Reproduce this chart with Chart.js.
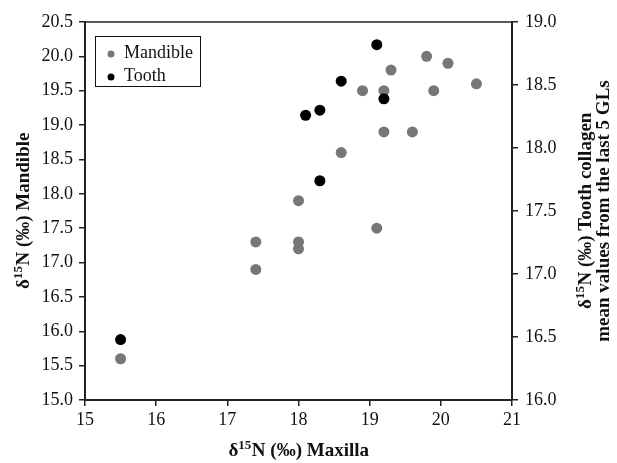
<!DOCTYPE html>
<html>
<head>
<meta charset="utf-8">
<script src="https://cdn.jsdelivr.net/npm/chart.js@4/dist/chart.umd.min.js"></script>
<style>
  body { margin: 0; background: #fff; }
  #wrap { width: 617px; height: 463px; }
</style>
</head>
<body>
<div id="wrap"><canvas id="chart" width="617" height="463"></canvas></div>
<script>
// d15N values
const mandibleX = [15.5, 17.4, 17.4, 18.0, 18.0, 18.0, 18.6, 18.9, 19.1, 19.2, 19.2, 19.3, 19.6, 19.8, 19.9, 20.1, 20.5];
const mandibleY = [15.6, 17.3, 16.9, 17.3, 17.2, 17.9, 18.6, 19.5, 17.5, 19.5, 18.9, 19.8, 18.9, 20.0, 19.5, 19.9, 19.6];
const toothX = [15.5, 18.1, 18.3, 18.3, 18.6, 19.1, 19.2];
const toothY = [16.48, 18.26, 18.30, 17.74, 18.53, 18.82, 18.39];

const xTicks = [15, 16, 17, 18, 19, 20, 21];
const leftTicks = [15.0, 15.5, 16.0, 16.5, 17.0, 17.5, 18.0, 18.5, 19.0, 19.5, 20.0, 20.5];
const rightTicks = [16.0, 16.5, 17.0, 17.5, 18.0, 18.5, 19.0];

const xTitle = ['δ', '15', 'N (‰) Maxilla'];
const leftTitle = ['δ', '15', 'N (‰) Mandible'];
const rightTitle1 = ['δ', '15', 'N (‰) Tooth collagen'];
const rightTitle2 = 'mean values from the last 5 GLs';

const serif = '"Liberation Serif", "Times New Roman", serif';
const axisCol = '#222';

const pts = function (xs, ys) {
    return xs.map((x, i) => ({x: x, y: ys[i]}));
};

// text with a superscript piece, centred on (0,0)
const drawSup = function (ctx, parts, size) {
    const big = 'bold ' + size + 'px ' + serif;
    const small = 'bold ' + Math.round(size * 0.66) + 'px ' + serif;
    ctx.font = big;
    const w0 = ctx.measureText(parts[0]).width;
    const w2 = ctx.measureText(parts[2]).width;
    ctx.font = small;
    const w1 = ctx.measureText(parts[1]).width;
    let x = -(w0 + w1 + w2) / 2;
    ctx.textBaseline = 'alphabetic';
    ctx.textAlign = 'left';
    ctx.font = big;
    ctx.fillText(parts[0], x, 0);
    x += w0;
    ctx.font = small;
    ctx.fillText(parts[1], x, -size * 0.36);
    x += w1 + 0.5;
    ctx.font = big;
    ctx.fillText(parts[2], x, 0);
};

const decorations = {
    id: 'decorations',
    afterDraw(chart) {
        const ctx = chart.ctx;
        const a = chart.chartArea;
        ctx.save();
        // top border
        ctx.strokeStyle = axisCol;
        ctx.lineWidth = 1.5;
        ctx.beginPath();
        ctx.moveTo(a.left, a.top);
        ctx.lineTo(a.right, a.top);
        ctx.stroke();

        ctx.fillStyle = '#111';
        const midY = (a.top + a.bottom) / 2;
        // x title
        ctx.save();
        ctx.translate((a.left + a.right) / 2, 456);
        drawSup(ctx, xTitle, 19);
        ctx.restore();
        // left title
        ctx.save();
        ctx.translate(29, midY);
        ctx.rotate(-Math.PI / 2);
        drawSup(ctx, leftTitle, 19);
        ctx.restore();
        // right title
        ctx.save();
        ctx.translate(591, midY);
        ctx.rotate(-Math.PI / 2);
        drawSup(ctx, rightTitle1, 19);
        ctx.font = 'bold 19px ' + serif;
        ctx.textAlign = 'center';
        ctx.fillText(rightTitle2, 0, 18);
        ctx.restore();

        // legend
        const lx = 95, ly = 36, lw = 105, lh = 50;
        ctx.fillStyle = '#fff';
        ctx.fillRect(lx, ly, lw, lh);
        ctx.strokeStyle = '#111';
        ctx.lineWidth = 1;
        ctx.strokeRect(lx + 0.5, ly + 0.5, lw, lh);
        ctx.font = '18px ' + serif;
        ctx.textAlign = 'left';
        ctx.textBaseline = 'middle';
        chart.data.datasets.forEach((ds, i) => {
            const y = ly + 17 + i * 23;
            ctx.fillStyle = ds.backgroundColor;
            ctx.beginPath();
            ctx.arc(lx + 16, y + 1, 3.5, 0, Math.PI * 2);
            ctx.fill();
            ctx.fillStyle = '#111';
            ctx.fillText(ds.label, lx + 29, y);
        });
        ctx.restore();
    }
};

new Chart(document.getElementById('chart').getContext('2d'), {
    type: 'scatter',
    data: {
        datasets: [
            {
                label: 'Mandible',
                data: pts(mandibleX, mandibleY),
                backgroundColor: '#777777',
                borderWidth: 0,
                pointRadius: 5.5,
                yAxisID: 'y',
                order: 2
            },
            {
                label: 'Tooth',
                data: pts(toothX, toothY),
                backgroundColor: '#000000',
                borderWidth: 0,
                pointRadius: 5.5,
                yAxisID: 'y2',
                order: 1
            }
        ]
    },
    options: {
        responsive: false,
        animation: false,
        layout: {padding: {top: 22, right: 0, left: 0, bottom: 0}},
        plugins: {
            legend: {display: false},
            tooltip: {enabled: false}
        },
        scales: {
            x: {
                type: 'linear',
                min: 15, max: 21,
                afterBuildTicks: (s) => { s.ticks = xTicks.map(v => ({value: v})); },
                afterFit: (s) => { s.height = 63; },
                ticks: {color: '#111', font: {family: serif, size: 18}, padding: 3, maxRotation: 0},
                grid: {drawOnChartArea: false, tickLength: 6, color: axisCol, lineWidth: 1.5},
                border: {color: axisCol, width: 2}
            },
            y: {
                type: 'linear',
                position: 'left',
                min: 15, max: 20.5,
                afterBuildTicks: (s) => { s.ticks = leftTicks.map(v => ({value: v})); },
                afterFit: (s) => { s.width = 85; },
                ticks: {color: '#111', font: {family: serif, size: 18}, padding: 6,
                    callback: (v) => v.toFixed(1)},
                grid: {drawOnChartArea: false, tickLength: 6, color: axisCol, lineWidth: 1.5},
                border: {color: axisCol, width: 2}
            },
            y2: {
                type: 'linear',
                position: 'right',
                min: 16, max: 19,
                afterBuildTicks: (s) => { s.ticks = rightTicks.map(v => ({value: v})); },
                afterFit: (s) => { s.width = 105; },
                ticks: {color: '#111', font: {family: serif, size: 18}, padding: 7,
                    callback: (v) => v.toFixed(1)},
                grid: {drawOnChartArea: false, tickLength: 6, color: axisCol, lineWidth: 1.5},
                border: {color: axisCol, width: 2}
            }
        }
    },
    plugins: [decorations]
});
</script>
</body>
</html>
